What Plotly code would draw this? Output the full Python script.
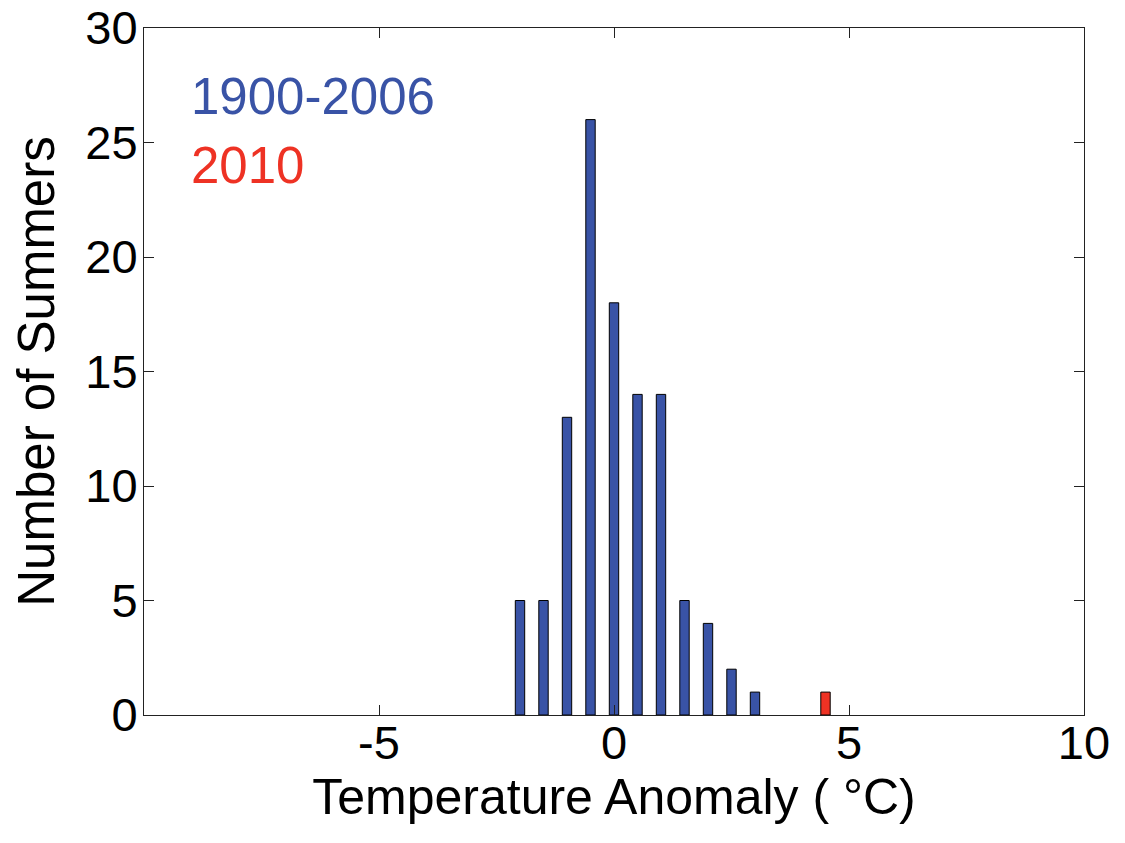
import plotly.graph_objects as go

bin_centers = [-2.0, -1.5, -1.0, -0.5, 0.0, 0.5, 1.0, 1.5, 2.0, 2.5, 3.0]
counts_1900_2006 = [5, 5, 13, 26, 18, 14, 14, 5, 4, 2, 1]
bin_2010 = [4.5]
count_2010 = [1]
x_ticks = [-5, 0, 5, 10]
x_tick_labels = ["-5", "0", "5", "10"]
y_ticks = [0, 5, 10, 15, 20, 25, 30]

BLUE = "#3953a6"
RED = "#ee3224"
FONT = "Liberation Sans, Arial, Helvetica, sans-serif"

fig = go.Figure()
fig.add_trace(go.Bar(x=bin_centers, y=counts_1900_2006, width=0.2,
                     marker=dict(color=BLUE, line=dict(color="black", width=1)),
                     showlegend=False))
fig.add_trace(go.Bar(x=bin_2010, y=count_2010, width=0.2,
                     marker=dict(color=RED, line=dict(color="black", width=1)),
                     showlegend=False))

axis_common = dict(showline=True, linecolor="#222222", linewidth=1, mirror="ticks",
                   ticks="inside", ticklen=10, tickcolor="#222222", showgrid=False,
                   zeroline=False, automargin=False, ticklabeloverflow="allow",
                   tickfont=dict(size=47, color="black", family=FONT))

fig.update_layout(
    width=1125, height=843,
    plot_bgcolor="white", paper_bgcolor="white",
    margin=dict(l=144, r=41, t=28, b=128),
    font=dict(family=FONT, color="black"),
    xaxis=dict(range=[-10, 10], tickvals=x_ticks, ticktext=x_tick_labels,
               ticklabelstandoff=-13,
               title=dict(text="Temperature Anomaly ( °C)", font=dict(size=50), standoff=0),
               **axis_common),
    yaxis=dict(range=[0, 30], tickvals=y_ticks, ticklabelstandoff=-4,
               title=dict(text="Number of Summers", font=dict(size=51), standoff=14),
               **axis_common),
    annotations=[
        dict(x=-9.04, y=27.0, xref="x", yref="y", text="1900-2006", showarrow=False,
             xanchor="left", yanchor="middle", font=dict(size=51, color=BLUE)),
        dict(x=-9.04, y=24.0, xref="x", yref="y", text="2010", showarrow=False,
             xanchor="left", yanchor="middle", font=dict(size=51, color=RED)),
    ],
)

fig.write_html("out.html", config={"displayModeBar": False},
               post_script="document.body.style.margin='0';document.body.style.overflow='hidden';")
